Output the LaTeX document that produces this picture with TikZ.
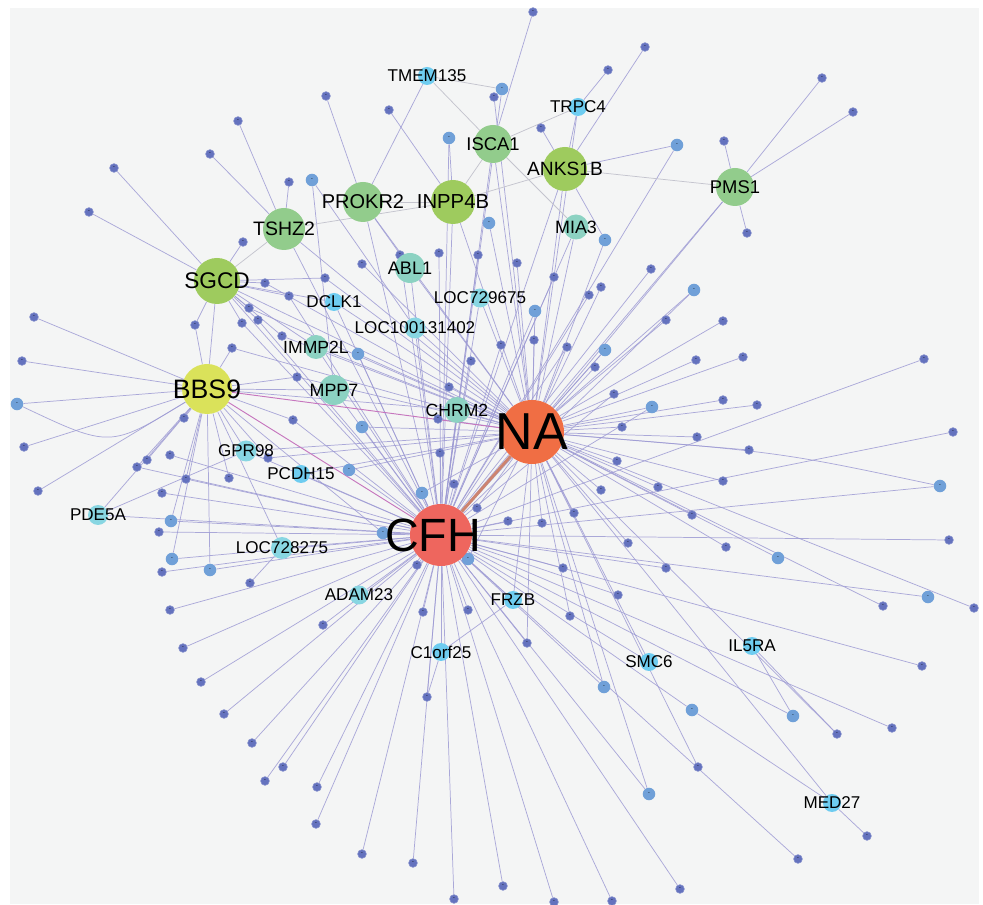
\documentclass[tikz,border=0pt]{standalone}
\usepackage{fontspec}
\setmainfont{Liberation Sans}
\pgfdeclarelayer{bgl}
\pgfdeclarelayer{edl}
\pgfsetlayers{bgl,edl,main}
\definecolor{bgc}{RGB}{244,245,245}
\definecolor{edc}{RGB}{158,155,212}
\definecolor{grc}{RGB}{196,196,206}
\definecolor{pkc}{RGB}{198,118,190}
\definecolor{brc}{RGB}{205,132,112}
\definecolor{dkd}{RGB}{100,114,190}
\definecolor{lbd}{RGB}{112,160,216}
\definecolor{nac}{RGB}{240,110,68}
\definecolor{cfc}{RGB}{238,102,94}
\definecolor{bbc}{RGB}{218,226,90}
\definecolor{g1c}{RGB}{158,203,94}
\definecolor{g2c}{RGB}{146,204,140}
\definecolor{tlc}{RGB}{140,210,194}
\definecolor{cyc}{RGB}{136,214,226}
\definecolor{skc}{RGB}{110,204,240}
\begin{document}
\begin{tikzpicture}[x=0.75pt,y=-0.75pt,
  dd/.style={circle,fill=dkd,draw=dkd!75!white,line width=0.4pt,inner sep=0pt,minimum size=6.6pt,font=\fontsize{4}{4}\selectfont},
  bd/.style={circle,fill=lbd,inner sep=0pt,minimum size=9.4pt,font=\fontsize{4}{4}\selectfont},
  gn/.style 2 args={circle,fill=#1,inner sep=0pt,minimum size={1.5pt*#2}},
  lbl/.style={font=\fontsize{#1}{#1}\selectfont,text=black,inner sep=0pt},
  ed/.style={draw=edc,line width=0.55pt,draw opacity=0.85},
  eg/.style={draw=grc,line width=0.55pt},
  ep/.style={draw=pkc,line width=0.7pt}]
\useasboundingbox (0,0) rectangle (983,905);
\begin{pgfonlayer}{bgl}
\fill[white] (0,0) rectangle (983,905);
\fill[bgc] (10,8) rectangle (979,904);
\end{pgfonlayer}

% small dots
\foreach \n/\x/\y in {t1/326/96, t2/238/121, t3/210/154, t4/114/168, t5/89/212, t6/289/182, t8/243/242, t9/325/278, t10/265/283, t11/289/296, t12/533/12, t13/645/47, t14/608/70, t16/494/97, t17/389/110, t18/541/128, t22/439/253, t23/478/255, t24/517/263, t25/362/264, t26/400/255, t27/554/277, t28/651/269, t29/601/287, t30/589/295, t32/822/78, t33/853/112, t34/724/141, t36/747/233,
 l1/34/317, l2/195/325, l3/242/323, l4/249/308, l5/258/320, l6/282/336, l7/232/348, l8/22/361, l9/297/377, l11/184/418, l12/293/420, l13/24/447, l14/170/455, l15/147/460, l16/137/467, l17/268/458, l18/186/479, l19/229/478, l20/38/491, l21/162/493, l23/159/532, l26/162/572, l27/250/583,
 c7/417/565, c8/454/484, c9/440/453, c10/438/419, c11/449/387, c12/471/361, c13/501/345, c14/534/340, c15/567/347, c17/595/367, c18/614/394, c19/622/427, c20/617/461, c21/601/490, c22/477/508, c23/574/513, c24/508/521, c25/542/523, c26/628/543, c28/658/487,
 r1/666/320, r2/723/321, r3/696/360, r4/743/357, r5/924/359, r6/723/400, r7/757/405, r8/697/437, r9/749/450, r10/953/432, r11/723/481, r13/692/515, r14/726/547, r15/949/540, r17/666/568, r19/883/606, r20/974/608, r21/922/666, r22/892/728, r23/837/734, r26/867/836, r27/698/767, r28/798/859, r29/680/889,
 b1/618/595, b2/570/616, b3/563/568, b4/527/643, b5/427/697, b6/423/612, b7/468/610, b8/362/854, b9/413/863, b10/454/899, b11/503/886, b12/554/902, b13/612/901, b14/170/610, b15/183/648, b16/201/682, b17/224/714, b18/252/743, b19/283/767, b20/265/781, b21/317/787, b22/316/824, b23/323/625}
  \node[dd] (\n) at (\x,\y) {-};
\foreach \n/\x/\y in {t7/312/180, t15/502/89, t19/449/138, t20/489/223, t21/605/240, t31/535/311, t35/677/145, t37/694/290,
 l10/17/404, l22/171/521, l24/172/559, l25/210/570,
 c1/358/354, c2/362/427, c3/349/470, c4/383/533, c5/422/493, c6/468/559, c16/605/350, c27/652/407,
 r12/940/486, r16/778/558, r18/928/597, r24/793/716, r25/692/710, r30/649/794, r31/604/687}
  \node[bd] (\n) at (\x,\y) {-};

% gene nodes
\node[gn={cyc}{9.5},label={[lbl=12.8]center:LOC729675}] (LOC729675) at (480,298) {};
\node[gn={skc}{9},label={[lbl=12.8]center:DCLK1}] (DCLK1) at (334,302) {};
\node[gn={cyc}{10.5},label={[lbl=12.8]center:LOC100131402}] (LOC100131402) at (415,328) {};
\node[gn={cyc}{10.5},label={[lbl=12.8]center:GPR98}] (GPR98) at (246,451) {};
\node[gn={skc}{9},label={[lbl=12.8]center:PCDH15}] (PCDH15) at (301,474) {};
\node[gn={cyc}{10},label={[lbl=12.8]center:PDE5A}] (PDE5A) at (98,515) {};
\node[gn={cyc}{11},label={[lbl=12.8]center:LOC728275}] (LOC728275) at (282,548) {};
\node[gn={cyc}{9.5},label={[lbl=12.8]center:ADAM23}] (ADAM23) at (359,595) {};
\node[gn={skc}{9},label={[lbl=12.8]center:FRZB}] (FRZB) at (513,600) {};
\node[gn={skc}{9},label={[lbl=12.8]center:C1orf25}] (C1orf25) at (441,652) {};
\node[gn={skc}{9},label={[lbl=12.8]center:SMC6}] (SMC6) at (649,662) {};
\node[gn={skc}{9},label={[lbl=12.8]center:IL5RA}] (IL5RA) at (752,646) {};
\node[gn={skc}{9},label={[lbl=12.8]center:MED27}] (MED27) at (832,803) {};
\node[gn={skc}{9},label={[lbl=12.8]center:TMEM135}] (TMEM135) at (427,76) {};
\node[gn={skc}{9},label={[lbl=12.8]center:TRPC4}] (TRPC4) at (578,107) {};
\node[gn={tlc}{12.5},label={[lbl=13.4]center:MIA3}] (MIA3) at (576,227) {};
\node[gn={tlc}{15},label={[lbl=13.6]center:ABL1}] (ABL1) at (410,268) {};
\node[gn={tlc}{12},label={[lbl=13.2]center:IMMP2L}] (IMMP2L) at (316,347) {};
\node[gn={tlc}{15},label={[lbl=13.4]center:MPP7}] (MPP7) at (334,390) {};
\node[gn={tlc}{13},label={[lbl=13.2]center:CHRM2}] (CHRM2) at (457,410) {};
\node[gn={g2c}{19},label={[lbl=13.8]center:PMS1}] (PMS1) at (735,187) {};
\node[gn={g2c}{19},label={[lbl=13.8]center:ISCA1}] (ISCA1) at (493,144) {};
\node[gn={g1c}{22},label={[lbl=14.4]center:ANKS1B}] (ANKS1B) at (565,169) {};
\node[gn={g2c}{20},label={[lbl=15]center:PROKR2}] (PROKR2) at (363,202) {};
\node[gn={g1c}{22},label={[lbl=15.2]center:INPP4B}] (INPP4B) at (453,202) {};
\node[gn={g2c}{21},label={[lbl=14.6]center:TSHZ2}] (TSHZ2) at (284,229) {};
\node[gn={g1c}{23},label={[lbl=17]center:SGCD}] (SGCD) at (217,281) {};
\node[gn={bbc}{25},label={[lbl=20]center:BBS9}] (BBS9) at (207,389) {};
\node[gn={cfc}{31},label={[lbl=35,xshift=-6pt]center:CFH}] (CFH) at (441,535) {};
\node[gn={nac}{32},label={[lbl=39]center:NA}] (NA) at (532,432) {};

\begin{pgfonlayer}{edl}
\foreach \a/\b in {t1/PROKR2, t2/TSHZ2, t3/TSHZ2, t4/SGCD, t5/SGCD, t6/TSHZ2, t7/MPP7, t7/LOC100131402, t8/SGCD, t9/SGCD, t9/NA, t10/SGCD, t10/NA, t11/SGCD, t11/CFH, t12/ISCA1, t13/ANKS1B, t14/TRPC4, t15/CFH, t16/NA, t17/INPP4B, t18/ANKS1B, t19/INPP4B, t19/CFH, t20/NA, t21/NA, t22/CFH, t23/CFH, t24/NA, t25/NA, t26/CFH, t27/CFH, t28/CFH, t29/NA, t30/CFH, t31/NA, t31/CFH, t32/PMS1, t33/PMS1, t34/PMS1, t36/PMS1, t35/CFH, t35/ANKS1B, t37/NA, t37/CFH,
 l1/BBS9, l2/BBS9, l2/SGCD, l3/SGCD, l3/CFH, l4/SGCD, l4/NA, l5/SGCD, l5/CFH, l6/SGCD, l6/NA, l7/BBS9, l7/NA, l8/BBS9, l9/BBS9, l9/NA, l10/BBS9, l11/BBS9, l12/BBS9, l12/CFH, l13/BBS9, l14/CFH, l15/BBS9, l16/BBS9, l16/CFH, l17/BBS9, l17/NA, l18/BBS9, l18/CFH, l19/BBS9, l20/BBS9, l21/CFH, l22/CFH, l22/BBS9, l23/CFH, l24/CFH, l24/BBS9, l25/CFH, l25/BBS9, l26/CFH, l27/LOC728275,
 c1/NA, c1/CFH, c2/NA, c2/CFH, c3/NA, c3/CFH, c4/CFH, c4/BBS9, c5/CFH, c5/NA, c6/CFH, c6/NA, c7/CFH, c8/CFH, c9/CFH, c10/NA, c11/NA, c12/CFH, c13/CFH, c14/NA, c15/NA, c15/CFH, c16/NA, c16/CFH, c17/CFH, c18/CFH, c19/NA, c20/NA, c21/NA, c22/NA, c23/NA, c24/CFH, c25/NA, c26/NA, c27/NA, c27/CFH, c28/NA,
 r1/NA, r2/NA, r3/NA, r4/NA, r5/CFH, r6/NA, r7/NA, r8/NA, r9/NA, r10/CFH, r11/NA, r12/CFH, r13/NA, r14/NA, r15/CFH, r16/NA, r17/CFH, r18/CFH, r19/NA, r20/NA, r21/CFH, r22/CFH, r23/NA, r24/CFH, r25/CFH, r25/MED27, MED27/NA, MED27/r26, r27/NA, r28/CFH, r29/CFH, r30/CFH, r30/NA, r31/CFH, r31/NA, SMC6/CFH, SMC6/NA, IL5RA/r24, IL5RA/r23,
 b1/CFH, b2/NA, b3/CFH, b4/NA, b4/CFH, b5/C1orf25, b5/CFH, b6/CFH, b7/CFH, b8/CFH, b9/CFH, b10/CFH, b11/CFH, b12/CFH, b13/CFH, b14/CFH, b15/CFH, b16/CFH, b17/CFH, b18/CFH, b19/CFH, b20/CFH, b21/CFH, b22/CFH, b23/CFH,
 SGCD/NA, SGCD/CFH, SGCD/BBS9, TSHZ2/NA, TSHZ2/CFH, PROKR2/NA, PROKR2/CFH, PROKR2/TMEM135, PROKR2/ABL1, INPP4B/NA, INPP4B/CFH, ISCA1/NA, ISCA1/CFH, ANKS1B/NA, ANKS1B/CFH, ANKS1B/TRPC4, ANKS1B/t21, PMS1/NA, PMS1/CFH, MIA3/NA, MIA3/CFH, ABL1/NA, ABL1/CFH, LOC729675/NA, LOC729675/CFH, DCLK1/NA, DCLK1/CFH, DCLK1/SGCD, LOC100131402/NA, LOC100131402/CFH, IMMP2L/NA, IMMP2L/CFH, IMMP2L/SGCD, MPP7/CFH, MPP7/BBS9, CHRM2/NA, CHRM2/CFH, CHRM2/BBS9, GPR98/BBS9, GPR98/CFH, GPR98/NA, PCDH15/CFH, PCDH15/NA, PDE5A/CFH, PDE5A/BBS9, PDE5A/GPR98, LOC728275/CFH, LOC728275/BBS9, ADAM23/CFH, FRZB/CFH, FRZB/C1orf25, FRZB/NA, C1orf25/CFH, TRPC4/NA}
  \draw[ed] (\a) -- (\b);
\foreach \a/\b in {TMEM135/t15, TMEM135/ISCA1, ISCA1/TRPC4, ISCA1/MIA3, ISCA1/INPP4B, INPP4B/ANKS1B, INPP4B/TSHZ2, INPP4B/PROKR2, ANKS1B/PMS1, TSHZ2/SGCD}
  \draw[eg] (\a) -- (\b);
\draw[ed] (l10) .. controls (110,448) .. (BBS9);
\draw[ed] (r12) .. controls (780,452) .. (NA);
\draw[ep] (BBS9) -- (NA);
\draw[ep] (BBS9) -- (CFH);
\draw[draw=brc,line width=2.2pt] (NA) -- (CFH);
\end{pgfonlayer}
\end{tikzpicture}
\end{document}
